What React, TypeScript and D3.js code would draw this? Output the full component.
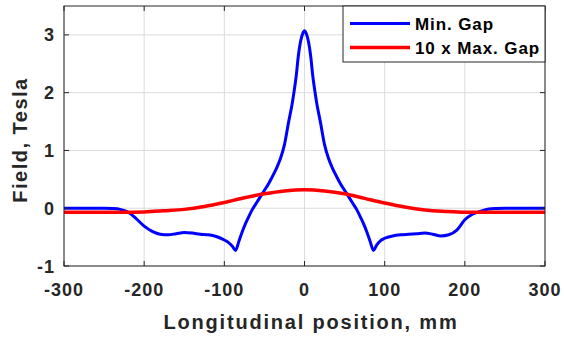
import { useRef, useEffect } from 'react';
import * as d3 from 'd3';

// Min. Gap field profile (Tesla) vs longitudinal position (mm)
const minGapX = [
  -300, -275, -250, -240, -230, -220, -210, -200, -190, -180, -170, -160, -150, -140, -130, -120, -110, -100,
  -95, -90, -86, -82, -78, -74, -70, -65, -60, -55, -50, -45, -40, -35, -30, -25, -20, -15, -13, -10, -8, -5, -2,
  0, 2, 5, 8, 10, 13, 15, 20, 25, 30, 35, 40, 45, 50, 55, 60, 65, 70, 74, 78, 82, 86, 90, 95, 100,
  110, 120, 130, 140, 150, 160, 170, 180, 190, 200, 210, 220, 230, 240, 250, 275, 300,
];
const minGapB = [
  0.0, 0.0, 0.0, -0.005, -0.02, -0.07, -0.18, -0.31, -0.4, -0.45, -0.46, -0.44, -0.42, -0.43, -0.45, -0.46, -0.49, -0.55,
  -0.59, -0.66, -0.73, -0.58, -0.42, -0.28, -0.16, -0.02, 0.09, 0.2, 0.31, 0.42, 0.55, 0.69, 0.86, 1.1, 1.48, 1.84, 2.02, 2.33, 2.6, 2.88, 3.03,
  3.07, 3.03, 2.88, 2.6, 2.33, 2.02, 1.84, 1.48, 1.1, 0.86, 0.69, 0.55, 0.42, 0.31, 0.2, 0.09, -0.02, -0.16, -0.28, -0.42, -0.58, -0.73, -0.64, -0.56, -0.52,
  -0.48, -0.46, -0.45, -0.44, -0.43, -0.45, -0.48, -0.46, -0.38, -0.2, -0.1, -0.05, -0.015, -0.005, 0.0, 0.0, 0.0,
];

// 10 x Max. Gap field profile
const maxGapX = [-300, -275, -250, -225, -200, -175, -150, -125, -100, -75, -50, -25, 0, 25, 50, 75, 100, 125, 150, 175, 200, 225, 250, 275, 300];
const maxGapB = [-0.07, -0.07, -0.07, -0.07, -0.065, -0.045, -0.02, 0.03, 0.1, 0.18, 0.25, 0.3, 0.32, 0.3, 0.25, 0.17, 0.09, 0.02, -0.03, -0.055, -0.07, -0.07, -0.07, -0.07, -0.07];

const xTicks = [-300, -200, -100, 0, 100, 200, 300];
const yTicks = [-1, 0, 1, 2, 3];

const series = [
  { label: 'Min. Gap', color: '#0000ff', width: 3, xs: minGapX, ys: minGapB },
  { label: '10 x Max. Gap', color: '#ff0000', width: 3.5, xs: maxGapX, ys: maxGapB },
];

export default function App() {
  const svgRef = useRef<SVGSVGElement>(null);

  useEffect(() => {
    if (!svgRef.current) return;
    const svg = d3.select(svgRef.current);
    svg.selectAll('*').remove();

    const width = 564;
    const height = 339;
    const margin = { top: 6, right: 19, bottom: 73, left: 64 };
    const innerW = width - margin.left - margin.right;
    const innerH = height - margin.top - margin.bottom;
    const axisColor = '#262626';
    const font = '"Liberation Sans", Arial, sans-serif';

    const x = d3.scaleLinear().domain([-300, 300]).range([0, innerW]);
    const y = d3.scaleLinear().domain([-1, 3.5]).range([innerH, 0]);

    const g = svg.append('g').attr('transform', `translate(${margin.left},${margin.top})`);

    // Grid
    g.append('g')
      .selectAll('line')
      .data(xTicks)
      .join('line')
      .attr('x1', (d) => x(d)).attr('x2', (d) => x(d))
      .attr('y1', 0).attr('y2', innerH)
      .attr('stroke', '#dcdcdc').attr('stroke-width', 1);
    g.append('g')
      .selectAll('line')
      .data(yTicks)
      .join('line')
      .attr('x1', 0).attr('x2', innerW)
      .attr('y1', (d) => y(d)).attr('y2', (d) => y(d))
      .attr('stroke', '#dcdcdc').attr('stroke-width', 1);

    // Curves
    series.forEach((s) => {
      const pts = s.xs.map((xv, i) => [xv, s.ys[i]] as [number, number]);
      const line = d3.line<[number, number]>()
        .x((d) => x(d[0]))
        .y((d) => y(d[1]))
        .curve(d3.curveMonotoneX);
      g.append('path')
        .datum(pts)
        .attr('d', line)
        .attr('fill', 'none')
        .attr('stroke', s.color)
        .attr('stroke-width', s.width)
        .attr('stroke-linejoin', 'round');
    });

    // Axes box + inward ticks
    g.append('rect')
      .attr('x', 0).attr('y', 0).attr('width', innerW).attr('height', innerH)
      .attr('fill', 'none').attr('stroke', axisColor).attr('stroke-width', 1);
    const tl = 5;
    xTicks.forEach((t) => {
      g.append('line').attr('x1', x(t)).attr('x2', x(t)).attr('y1', innerH).attr('y2', innerH - tl).attr('stroke', axisColor);
      g.append('line').attr('x1', x(t)).attr('x2', x(t)).attr('y1', 0).attr('y2', tl).attr('stroke', axisColor);
    });
    yTicks.forEach((t) => {
      g.append('line').attr('x1', 0).attr('x2', tl).attr('y1', y(t)).attr('y2', y(t)).attr('stroke', axisColor);
      g.append('line').attr('x1', innerW).attr('x2', innerW - tl).attr('y1', y(t)).attr('y2', y(t)).attr('stroke', axisColor);
    });

    // Tick labels
    g.append('g')
      .selectAll('text')
      .data(xTicks)
      .join('text')
      .attr('x', (d) => x(d)).attr('y', innerH + 30)
      .attr('text-anchor', 'middle')
      .attr('fill', axisColor)
      .style('font-family', font).style('font-weight', 'bold').style('font-size', '18px').style('letter-spacing', '1px')
      .text((d) => String(d));
    g.append('g')
      .selectAll('text')
      .data(yTicks)
      .join('text')
      .attr('x', -9).attr('y', (d) => y(d) + 6.5)
      .attr('text-anchor', 'end')
      .attr('fill', axisColor)
      .style('font-family', font).style('font-weight', 'bold').style('font-size', '18px').style('letter-spacing', '1px')
      .text((d) => String(d));

    // Axis labels
    svg.append('text')
      .attr('x', 311).attr('y', 329)
      .attr('text-anchor', 'middle')
      .attr('fill', axisColor)
      .style('font-family', font).style('font-weight', 'bold').style('font-size', '20px').style('letter-spacing', '1.8px')
      .text('Longitudinal position, mm');
    svg.append('text')
      .attr('transform', `translate(27, ${margin.top + innerH / 2 + 4}) rotate(-90)`)
      .attr('text-anchor', 'middle')
      .attr('fill', axisColor)
      .style('font-family', font).style('font-weight', 'bold').style('font-size', '20px').style('letter-spacing', '1.5px')
      .text('Field, Tesla');

    // Legend
    const lg = svg.append('g').attr('transform', `translate(343, ${margin.top})`);
    lg.append('rect')
      .attr('x', 0).attr('y', 0).attr('width', 545 - 343).attr('height', 56)
      .attr('fill', '#ffffff').attr('stroke', axisColor).attr('stroke-width', 1);
    series.forEach((s, i) => {
      const yy = 17.5 + i * 24;
      lg.append('line')
        .attr('x1', 7).attr('x2', 67).attr('y1', yy).attr('y2', yy)
        .attr('stroke', s.color).attr('stroke-width', s.width);
      lg.append('text')
        .attr('x', 72).attr('y', yy + 6.5)
        .attr('fill', '#000000')
        .style('font-family', font).style('font-weight', 'bold').style('font-size', '17px').style('letter-spacing', '0.9px')
        .text(s.label);
    });
  }, []);

  return (
    <svg
      ref={svgRef}
      width={564}
      height={339}
      style={{ position: 'absolute', left: 0, top: 0, background: '#ffffff' }}
    />
  );
}
